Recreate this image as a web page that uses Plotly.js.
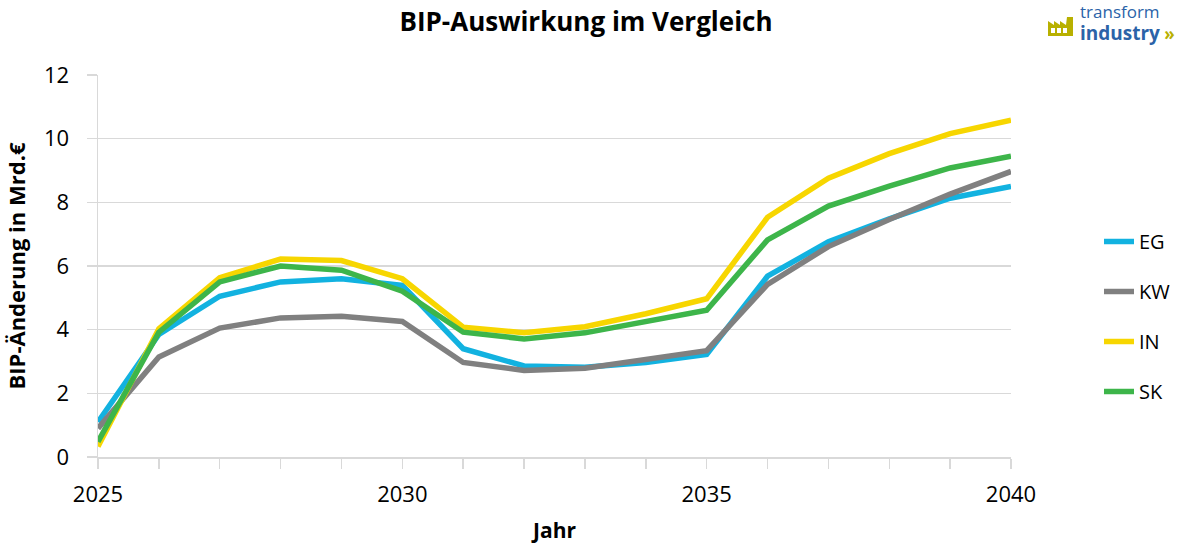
<!DOCTYPE html>
<html>
<head>
<meta charset="utf-8">
<script src="https://cdn.plot.ly/plotly-3.0.1.min.js"></script>
<style>html,body{margin:0;padding:0;background:#fff}#chart{width:1189px;height:544px}</style>
</head>
<body>
<div id="chart"></div>
<script>
const years = [2025,2026,2027,2028,2029,2030,2031,2032,2033,2034,2035,2036,2037,2038,2039,2040];
const seriesNames = ["EG","KW","IN","SK"];
const EG = [1.10,3.85,5.05,5.50,5.60,5.39,3.40,2.86,2.82,2.97,3.22,5.68,6.76,7.48,8.13,8.50];
const KW = [0.90,3.14,4.05,4.37,4.42,4.26,2.97,2.72,2.79,3.05,3.34,5.42,6.61,7.46,8.26,8.97];
const IN = [0.33,4.03,5.63,6.22,6.17,5.60,4.08,3.90,4.09,4.50,4.97,7.53,8.76,9.53,10.16,10.58];
const SK = [0.48,3.92,5.50,6.00,5.87,5.21,3.92,3.71,3.90,4.26,4.61,6.82,7.88,8.51,9.08,9.45];
const xTickLabels = ["2025","","","","","2030","","","","","2035","","","","","2040"];
const titleText = "BIP-Auswirkung im Vergleich";
const xTitle = "Jahr";
const yTitle = "BIP-Änderung in Mrd.€";
const logoTop = "transform";
const logoBottom = "industry";

const colors = ["#12B2E0","#808080","#F7D600","#3DB54A"];
const values = [EG, KW, IN, SK];

const traces = seriesNames.map((n, i) => ({
  x: years, y: values[i], name: n, type: "scatter", mode: "lines",
  legendgroup: n,
  line: {color: colors[i], width: 5.5}
}));

// plot area in pixels: x 98..1011, y 75..457
const L = 98, R = 1011, T = 75, B = 457;
const px = v => (v - L) / (R - L);
const py = v => (B - v) / (B - T);
const pathFrom = pts => pts.map((p, k) => (k ? "L " : "M ") + px(p[0]) + " " + py(p[1])).join(" ") + " Z";

const olive = "#B8B000";
const shapes = [
  {type: "path", xref: "paper", yref: "paper", fillcolor: olive, line: {width: 0},
   path: pathFrom([[1048,36],[1048,21],[1054,25],[1054,21],[1060,25],[1060,21],[1066,25],[1067,17],[1073,17],[1073,36]])}
];
[[1051,1055],[1057,1061],[1063,1067]].forEach(w => {
  shapes.push({type: "rect", xref: "paper", yref: "paper", fillcolor: "#fff", line: {width: 0},
    x0: px(w[0]), x1: px(w[1]), y0: py(33), y1: py(28)});
});

const layout = {
  width: 1189, height: 544,
  margin: {l: L, r: 1189 - R, t: T, b: 544 - B},
  paper_bgcolor: "#fff", plot_bgcolor: "#fff",
  font: {family: "Open Sans, sans-serif", color: "#000"},
  title: {text: "<b>" + titleText + "</b>", font: {size: 26, color: "#000"},
          x: 586/1189, xanchor: "center", y: 1 - 22/544, yanchor: "middle"},
  xaxis: {
    range: [2025, 2040], tickvals: years, ticktext: xTickLabels,
    showgrid: false, zeroline: false, showline: true, linecolor: "#D9D9D9", linewidth: 1.5,
    ticks: "outside", ticklen: 10, tickcolor: "#D9D9D9", tickwidth: 1.5,
    tickfont: {size: 22, color: "#000"}, ticklabelstandoff: 7,
    title: {text: "<b>" + xTitle + "</b>", font: {size: 21, color: "#000"}, standoff: 18}
  },
  yaxis: {
    range: [0, 12], dtick: 2, tick0: 0,
    showgrid: true, gridcolor: "#D9D9D9", gridwidth: 1.5, zeroline: false,
    showline: true, linecolor: "#D9D9D9", linewidth: 1.5,
    ticks: "outside", ticklen: 10, tickcolor: "#D9D9D9", tickwidth: 1.5,
    tickfont: {size: 22, color: "#000"}, ticklabelstandoff: 13,
    title: {text: "<b>" + yTitle + "</b>", font: {size: 22, color: "#000"}, standoff: 12}
  },
  showlegend: true,
  legend: {x: px(1099), xanchor: "left", y: py(222), yanchor: "top",
           font: {size: 20, color: "#000"}, tracegroupgap: 21, bgcolor: "rgba(0,0,0,0)",
           itemwidth: 30},
  shapes: shapes,
  annotations: [
    {xref: "paper", yref: "paper", x: px(1079), y: py(23), xanchor: "left", yanchor: "middle",
     align: "left", showarrow: false, borderpad: 0,
     text: logoTop + "<br><b><span style=\"font-size:19px\">" + logoBottom +
           "</span> <span style=\"color:" + olive + "\">»</span></b>",
     font: {size: 17, color: "#2B63A8"}}
  ]
};

Plotly.newPlot("chart", traces, layout, {displayModeBar: false, staticPlot: true});
</script>
</body>
</html>
